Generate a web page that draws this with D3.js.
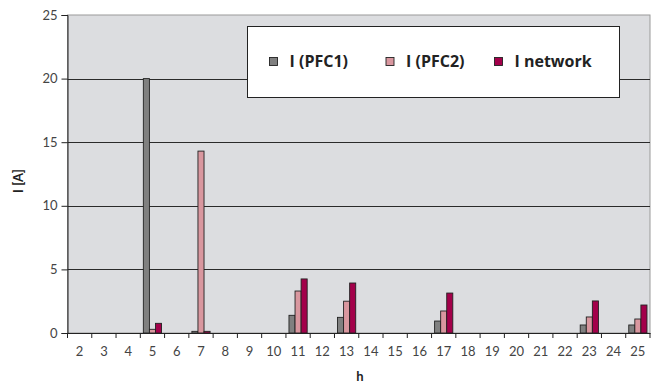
<!DOCTYPE html>
<html>
<head>
<meta charset="utf-8">
<script src="https://cdn.jsdelivr.net/npm/d3@7"></script>
<style>
  body { margin: 0; background: #fff; }
  svg { display: block; }
</style>
</head>
<body>
<svg id="chart" width="656" height="385"></svg>
<script>
const harmonics = ["2","3","4","5","6","7","8","9","10","11","12","13","14","15","16","17","18","19","20","21","22","23","24","25"];
const seriesNames = ["I (PFC1)", "I (PFC2)", "I network"];
const pfc1    = [0,0,0,20,0,0.13,0,0,0,1.39,0,1.23,0,0,0,0.94,0,0,0,0,0,0.63,0,0.63];
const pfc2    = [0,0,0,0.29,0,14.3,0,0,0,3.3,0,2.5,0,0,0,1.73,0,0,0,0,0,1.26,0,1.1];
const network = [0,0,0,0.76,0,0.13,0,0,0,4.25,0,3.93,0,0,0,3.14,0,0,0,0,0,2.52,0,2.2];
const yTicks = [0,5,10,15,20,25];
const colors = ["#808080", "#d9979f", "#a3004a"];

const seriesData = [pfc1, pfc2, network];
const svg = d3.select("#chart");
const pLeft = 67.5, pRight = 650, pTop = 15, pBottom = 333;
const font = "Lato, 'Open Sans', sans-serif";
const legFont = "'Open Sans', Lato, sans-serif";

const x = d3.scaleBand().domain(harmonics).range([pLeft, pRight]).paddingInner(0).paddingOuter(0);
const x1 = d3.scaleBand().domain(seriesNames).range([0, x.bandwidth()]).paddingOuter(0.5).paddingInner(0);
const y = d3.scaleLinear().domain([0, 25]).range([pBottom, pTop]);

// plot background
svg.append("rect").attr("x", pLeft).attr("y", pTop).attr("width", pRight - pLeft).attr("height", pBottom - pTop)
  .attr("fill", "#dcdde0").attr("stroke", "#9a9a9a").attr("stroke-width", 1);

// gridlines
svg.append("g").selectAll("line").data(yTicks.filter(t => t > 0 && t < 25)).join("line")
  .attr("x1", pLeft).attr("x2", pRight)
  .attr("y1", d => Math.round(y(d)) + 0.5).attr("y2", d => Math.round(y(d)) + 0.5)
  .attr("stroke", "#2a2a2a").attr("stroke-width", 1);

// bars
const groups = svg.append("g").selectAll("g").data(harmonics).join("g")
  .attr("transform", d => `translate(${x(d)},0)`);
groups.selectAll("rect").data((d, i) => seriesNames.map((s, j) => ({s, v: seriesData[j][i], j})))
  .join("rect")
  .filter(d => d.v > 0)
  .attr("x", d => x1(d.s))
  .attr("width", x1.bandwidth())
  .attr("y", d => y(d.v))
  .attr("height", d => pBottom - y(d.v))
  .attr("fill", d => colors[d.j])
  .attr("stroke", "#222").attr("stroke-width", 0.9);

// y axis
const yAxis = d3.axisLeft(y).tickValues(yTicks).tickSize(6).tickPadding(4);
const gy = svg.append("g").attr("transform", `translate(${pLeft},0)`).call(yAxis);
gy.select(".domain").attr("stroke", "#222");
gy.selectAll(".tick line").attr("stroke", "#222");
gy.selectAll("text").attr("font-family", font).attr("font-size", 13).attr("fill", "#444");

// x axis
const xAxis = d3.axisBottom(x).tickSize(0).tickPadding(14);
const gx = svg.append("g").attr("transform", `translate(0,${pBottom})`).call(xAxis);
gx.select(".domain").attr("stroke", "#222");
gx.selectAll("text").attr("font-family", font).attr("font-size", 13).attr("fill", "#444");
// category separator ticks
svg.append("g").selectAll("line").data(harmonics.concat(["end"])).join("line")
  .attr("x1", (d, i) => pLeft + i * x.bandwidth()).attr("x2", (d, i) => pLeft + i * x.bandwidth())
  .attr("y1", pBottom).attr("y2", pBottom + 5)
  .attr("stroke", "#222");

// axis titles
svg.append("text").attr("transform", "translate(23,181) rotate(-90)")
  .attr("text-anchor", "middle").attr("font-family", font).attr("font-weight", "bold")
  .attr("font-size", 13).attr("fill", "#222").text("I [A]");
svg.append("text").attr("x", 360).attr("y", 381).attr("text-anchor", "middle")
  .attr("font-family", font).attr("font-weight", "bold").attr("font-size", 13).attr("fill", "#222").text("h");

// legend
const lg = svg.append("g");
lg.append("rect").attr("x", 247.5).attr("y", 26.5).attr("width", 372).attr("height", 71)
  .attr("fill", "#fff").attr("stroke", "#222").attr("stroke-width", 1);
const legX = [269.5, 386, 494.5];
const items = lg.selectAll("g").data(seriesNames).join("g")
  .attr("transform", (d, i) => `translate(${legX[i]},57.5)`);
items.append("rect").attr("width", 8).attr("height", 8)
  .attr("fill", (d, i) => colors[i]).attr("stroke", "#222").attr("stroke-width", 0.9);
items.append("text").attr("x", 20).attr("y", 4).attr("dy", "0.35em")
  .attr("font-family", legFont).attr("font-weight", "bold").attr("font-size", 16).attr("fill", "#222")
  .text(d => d);
</script>
</body>
</html>
